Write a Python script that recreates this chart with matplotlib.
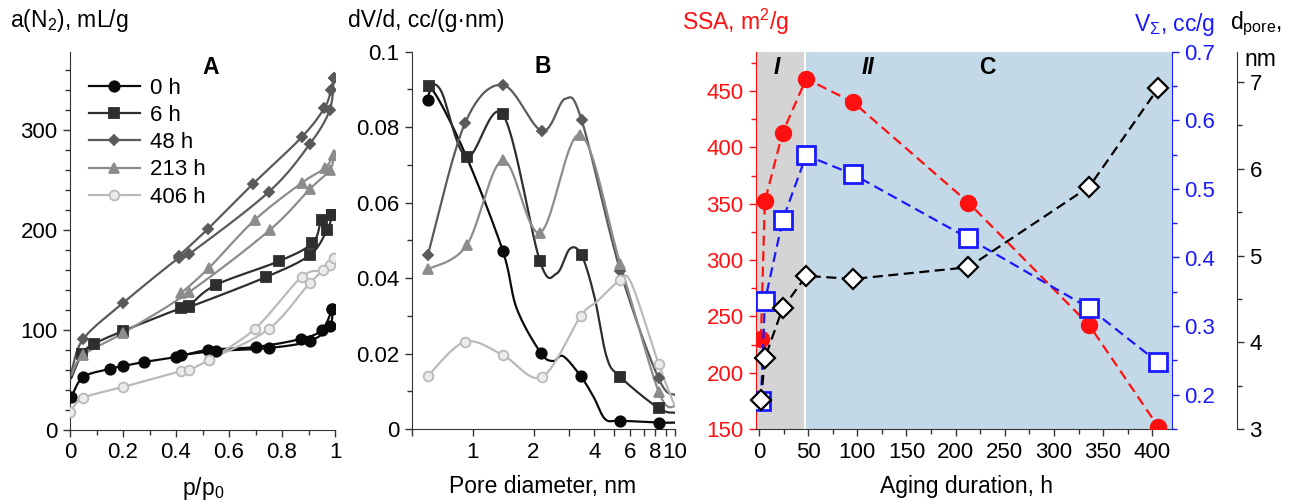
import numpy as np
import matplotlib
matplotlib.use('Agg')
import matplotlib.pyplot as plt
from matplotlib.ticker import MultipleLocator, FixedLocator, FuncFormatter, NullFormatter

plt.rcParams['font.family'] = ['Liberation Sans', 'DejaVu Sans']
plt.rcParams['mathtext.fontset'] = 'custom'
plt.rcParams['mathtext.rm'] = 'Liberation Sans'
plt.rcParams['mathtext.it'] = 'Liberation Sans:italic'
plt.rcParams['font.size'] = 16

# ---- panel A: N2 isotherms (adsorption / desorption branches)
a0_ads_p = [0.005, 0.05, 0.15, 0.2, 0.28, 0.4, 0.52, 0.7, 0.87, 0.95, 0.99]
a0_ads_a = [33, 53, 61, 64, 68, 73, 80, 83, 91, 100, 121]
a0_des_p = [0.99, 0.98, 0.905, 0.75, 0.55, 0.42]
a0_des_a = [121, 104, 89, 82, 79, 75]

a6_ads_p = [0.005, 0.045, 0.09, 0.2, 0.42, 0.45, 0.74, 0.905, 0.97, 0.99]
a6_ads_a = [52, 76, 86, 99, 122, 123, 153, 175, 200, 215]
a6_des_p = [0.99, 0.95, 0.915, 0.79, 0.55, 0.45]
a6_des_a = [215, 210, 187, 169, 145, 124]

a48_ads_p = [0.005, 0.05, 0.2, 0.41, 0.45, 0.75, 0.905, 0.98, 0.995]
a48_ads_a = [58, 91, 127, 172, 176, 238, 286, 320, 352]
a48_des_p = [0.995, 0.985, 0.96, 0.875, 0.69, 0.52, 0.41]
a48_des_a = [352, 340, 322, 293, 246, 201, 174]

a213_ads_p = [0.005, 0.05, 0.2, 0.45, 0.754, 0.905, 0.981, 0.995]
a213_ads_a = [55, 75, 97, 138, 200, 241, 260, 275]
a213_des_p = [0.995, 0.962, 0.874, 0.697, 0.524, 0.42]
a213_des_a = [275, 262, 247, 210, 162, 137]

a406_ads_p = [0.0, 0.05, 0.2, 0.42, 0.45, 0.524, 0.75, 0.905, 0.98, 0.995]
a406_ads_a = [18, 32, 43, 59, 60, 70, 101, 147, 165, 172]
a406_des_p = [0.995, 0.955, 0.874, 0.697, 0.524]
a406_des_a = [172, 160, 153, 101, 70]

labels = ['0 h', '6 h', '48 h', '213 h', '406 h']

# ---- panel B: pore size distributions (curve points, marker indices)
b0_d = [0.6, 0.65, 0.935, 1.41, 1.65, 2.17, 2.5, 2.8, 3.42, 3.96, 4.52, 5.36, 8.3, 10]
b0_v = [0.0872, 0.089, 0.072, 0.0472, 0.032, 0.0202, 0.018, 0.0193, 0.014, 0.0085, 0.0026, 0.0022, 0.0017, 0.0017]
b0_mk = [0, 3, 5, 8, 11, 12]

b6_d = [0.61, 0.7, 0.935, 1.41, 2.15, 2.6, 3.03, 3.46, 4.0, 4.6, 5.36, 8.3, 10]
b6_v = [0.091, 0.0895, 0.0721, 0.0834, 0.0445, 0.0412, 0.0478, 0.046, 0.035, 0.019, 0.0138, 0.0055, 0.0043]
b6_mk = [0, 2, 3, 4, 7, 10, 11]

b48_d = [0.6, 0.916, 1.41, 2.2, 2.86, 3.46, 5.36, 8.3, 10]
b48_v = [0.046, 0.081, 0.0912, 0.079, 0.0875, 0.0818, 0.042, 0.0134, 0.009]
b48_mk = [0, 1, 2, 3, 5, 6, 7]

b213_d = [0.6, 0.935, 1.41, 2.15, 3.4, 5.36, 8.3, 10]
b213_v = [0.0423, 0.0487, 0.0712, 0.052, 0.078, 0.0438, 0.0099, 0.0059]
b213_mk = [0, 1, 2, 3, 4, 5, 6]

b406_d = [0.6, 0.916, 1.41, 2.2, 3.42, 4.1, 5.36, 6.1, 8.3, 10]
b406_v = [0.014, 0.0231, 0.0196, 0.0138, 0.0299, 0.0337, 0.0394, 0.0385, 0.0172, 0.006]
b406_mk = [0, 1, 2, 3, 4, 6, 8]

# ---- panel C: aging
t_h = [2, 6, 24, 48, 96, 213, 336, 406]
ssa = [230, 352, 413, 461, 440, 351, 242, 152]
v_tot = [0.191, 0.336, 0.454, 0.549, 0.521, 0.428, 0.326, 0.247]
d_pore = [3.33, 3.815, 4.39, 4.765, 4.73, 4.865, 5.795, 6.93]


def smooth(x, y, n=24):
    # catmull-rom curve through the points (display only)
    pts = np.column_stack([x, y]).astype(float)
    p = np.vstack([pts[0], pts, pts[-1]])
    t = np.linspace(0, 1, n, endpoint=False)[:, None]
    out = []
    for i in range(1, len(p) - 2):
        p0, p1, p2, p3 = p[i - 1], p[i], p[i + 1], p[i + 2]
        seg = 0.5 * (2 * p1 + (-p0 + p2) * t + (2 * p0 - 5 * p1 + 4 * p2 - p3) * t ** 2
                     + (-p0 + 3 * p1 - 3 * p2 + p3) * t ** 3)
        out.append(seg)
    out.append(p[-2][None])
    out = np.vstack(out)
    return out[:, 0], out[:, 1]


cols = ['#0a0a0a', '#2e2e2e', '#5a5a5a', '#8c8c8c', '#bababa']
marks = ['o', 's', 'D', '^', 'o']
msz = [7.5, 7.5, 5.5, 6.5, 7]
mfcs = [cols[0], cols[1], cols[2], cols[3], '#ececec']

W, H = 1296, 504
fig = plt.figure(figsize=(W / 100, H / 100), dpi=100)


def fx(x, y):
    return x / W, 1 - y / H


axA = fig.add_axes([70 / W, 1 - 430 / H, 265 / W, 378 / H])
axB = fig.add_axes([411.7 / W, 1 - 429 / H, 263.3 / W, 377.3 / H])
axC = fig.add_axes([756 / W, 1 - 429 / H, 416 / W, 377.3 / H])

for ax in (axA, axB):
    ax.spines['top'].set_visible(False)
    ax.spines['right'].set_visible(False)
    ax.tick_params(which='both', direction='out', length=5, width=1, color='#333333', pad=4)
    ax.tick_params(which='minor', length=3.5)
    for s in ('left', 'bottom'):
        ax.spines[s].set_color('#333333')

# panel A
A_sets = [(a0_ads_p, a0_ads_a, a0_des_p, a0_des_a, 0),
          (a6_ads_p, a6_ads_a, a6_des_p, a6_des_a, 1),
          (a48_ads_p, a48_ads_a, a48_des_p, a48_des_a, 1),
          (a213_ads_p, a213_ads_a, a213_des_p, a213_des_a, 1),
          (a406_ads_p, a406_ads_a, a406_des_p, a406_des_a, 0)]
handles = []
for i, (ap, aa, dp, da, skip) in enumerate(A_sets):
    for bx, by, first in ((ap, aa, skip), (dp, da, 0)):
        sx, sy = smooth(bx, by)
        axA.plot(sx, sy, color=cols[i], lw=1.6, zorder=2 + i * 0.1)
        axA.plot(bx[first:], by[first:], ls='none', marker=marks[i], ms=msz[i],
                 mfc=mfcs[i], mec=cols[i], mew=1.3, zorder=3 + i * 0.1)
    h, = axA.plot([], [], color=cols[i], lw=1.6, marker=marks[i], ms=msz[i],
                  mfc=mfcs[i], mec=cols[i], mew=1.3)
    handles.append(h)
axA.legend(handles, labels, loc='upper left', bbox_to_anchor=(-0.005, 0.985), frameon=False,
           handlelength=2.3, labelspacing=0.28, handletextpad=0.45, fontsize=16)
axA.set_xlim(0, 1)
axA.set_ylim(0, 378)
axA.xaxis.set_major_locator(MultipleLocator(0.2))
axA.xaxis.set_minor_locator(MultipleLocator(0.1))
axA.yaxis.set_major_locator(MultipleLocator(100))
axA.yaxis.set_minor_locator(MultipleLocator(20))
axA.xaxis.set_major_formatter(FuncFormatter(lambda v, _: f'{v:g}'))
axA.text(0.53, 362, 'A', fontweight='bold', ha='center', va='center', fontsize=16.5)

# panel B
B_sets = [(b0_d, b0_v, b0_mk), (b6_d, b6_v, b6_mk), (b48_d, b48_v, b48_mk),
          (b213_d, b213_v, b213_mk), (b406_d, b406_v, b406_mk)]
for i, (d, v, mk) in enumerate(B_sets):
    lx, ly = smooth(np.log10(d), v)
    axB.plot(10 ** lx, ly, color=cols[i], lw=1.6, zorder=2 + i * 0.1)
    axB.plot(np.array(d)[mk], np.array(v)[mk], ls='none', marker=marks[i], ms=msz[i],
             mfc=mfcs[i], mec=cols[i], mew=1.3, zorder=3 + i * 0.1)
axB.set_xscale('log')
axB.set_xlim(0.5, 10)
axB.set_ylim(0, 0.1)
axB.xaxis.set_major_locator(FixedLocator([0.5, 1, 2, 3, 4, 5, 6, 7, 8, 9, 10]))
axB.xaxis.set_minor_locator(FixedLocator([]))
axB.xaxis.set_major_formatter(FuncFormatter(
    lambda v, _: f'{v:g}' if round(v, 3) in (1, 2, 4, 6, 8, 10) else ''))
axB.xaxis.set_minor_formatter(NullFormatter())
axB.yaxis.set_major_locator(MultipleLocator(0.02))
axB.yaxis.set_minor_locator(MultipleLocator(0.01))
axB.yaxis.set_major_formatter(FuncFormatter(lambda v, _: f'{v:g}'))
axB.text(2.23, 0.0962, 'B', fontweight='bold', ha='center', va='center', fontsize=16.5)

# panel C
red, blue, dk = '#ff1010', '#1a1aff', '#222222'
axC.set_xlim(-3, 420)
axC.set_ylim(150, 485)
axC.axvspan(-3, 45.5, color='#d4d4d4', lw=0, zorder=0)
axC.axvspan(47.5, 420, color='#c4d9e7', lw=0, zorder=0)
axC.plot(t_h, ssa, color=red, lw=1.6, dashes=(4.5, 2.5), marker='o', ms=11.5,
         mfc=red, mec=red, zorder=3)
axC.xaxis.set_major_locator(MultipleLocator(50))
axC.xaxis.set_minor_locator(MultipleLocator(25))
axC.yaxis.set_major_locator(MultipleLocator(50))
axC.yaxis.set_minor_locator(MultipleLocator(25))
axC.tick_params(which='both', direction='out', length=5, width=1, pad=4)
axC.tick_params(which='minor', length=3.5)
axC.tick_params(axis='y', which='both', colors=red, labelcolor=red)
axC.tick_params(axis='x', which='both', color='#333333')
axC.spines['left'].set_color(red)
axC.spines['bottom'].set_color('#333333')
axC.spines['top'].set_visible(False)
axC.spines['right'].set_visible(False)

axV = axC.twinx()
axV.set_ylim(0.15, 0.7)
axV.plot(t_h, v_tot, color=blue, lw=1.6, dashes=(4.5, 2.5), marker='s', ms=13,
         mfc='white', mec=blue, mew=2, zorder=3)
axV.yaxis.set_major_locator(MultipleLocator(0.1))
axV.yaxis.set_minor_locator(MultipleLocator(0.05))
axV.yaxis.set_major_formatter(FuncFormatter(lambda v, _: f'{v:.1f}'))
axV.tick_params(which='both', direction='out', length=5, width=1, pad=4, colors=blue)
axV.tick_params(which='minor', length=3.5)
axV.spines['right'].set_color(blue)
for s in ('top', 'left', 'bottom'):
    axV.spines[s].set_visible(False)

axD = axC.twinx()
axD.set_ylim(3, 7.35)
axD.spines['right'].set_position(('axes', (1237 - 756) / 416))
axD.plot(t_h, d_pore, color='black', lw=1.6, dashes=(4.5, 2.5), marker='D', ms=10.5,
         mfc='white', mec='black', mew=1.6, zorder=4, clip_on=False)
axD.yaxis.set_major_locator(MultipleLocator(1))
axD.yaxis.set_minor_locator(MultipleLocator(0.5))
axD.tick_params(which='both', direction='out', length=5, width=1, pad=4, color='#333333')
axD.tick_params(which='minor', length=3.5)
axD.spines['right'].set_color('#333333')
for s in ('top', 'left', 'bottom'):
    axD.spines[s].set_visible(False)

axC.text(18, 471, 'I', fontweight='bold', fontstyle='italic', ha='center', va='center', fontsize=16.5)
axC.text(111, 471, 'II', fontweight='bold', fontstyle='italic', ha='center', va='center', fontsize=16.5)
axC.text(232, 471, 'C', fontweight='bold', ha='center', va='center', fontsize=16.5)

# axis titles
fig.text(*fx(10, 21), 'a(N$_2$), mL/g', ha='left', va='center', fontsize=16.5)
fig.text(*fx(203, 489), 'p/p$_0$', ha='center', va='center', fontsize=16.5)
fig.text(*fx(348, 20), 'dV/d, cc/(g·nm)', ha='left', va='center', fontsize=16.5)
fig.text(*fx(543, 487), 'Pore diameter, nm', ha='center', va='center', fontsize=16.5)
fig.text(*fx(682, 22), 'SSA, m$^2$/g', ha='left', va='center', color=red, fontsize=16.5)
fig.text(*fx(1215, 24), 'V$_\\Sigma$, cc/g', ha='right', va='center', color=blue, fontsize=16.5)
fig.text(*fx(1230, 24), 'd$_{\\mathrm{pore}}$,', ha='left', va='center', fontsize=16.5)
fig.text(*fx(1244, 59), 'nm', ha='left', va='center', fontsize=16.5)
fig.text(*fx(966, 487), 'Aging duration, h', ha='center', va='center', fontsize=16.5)

fig.savefig('out.png', dpi=100)
